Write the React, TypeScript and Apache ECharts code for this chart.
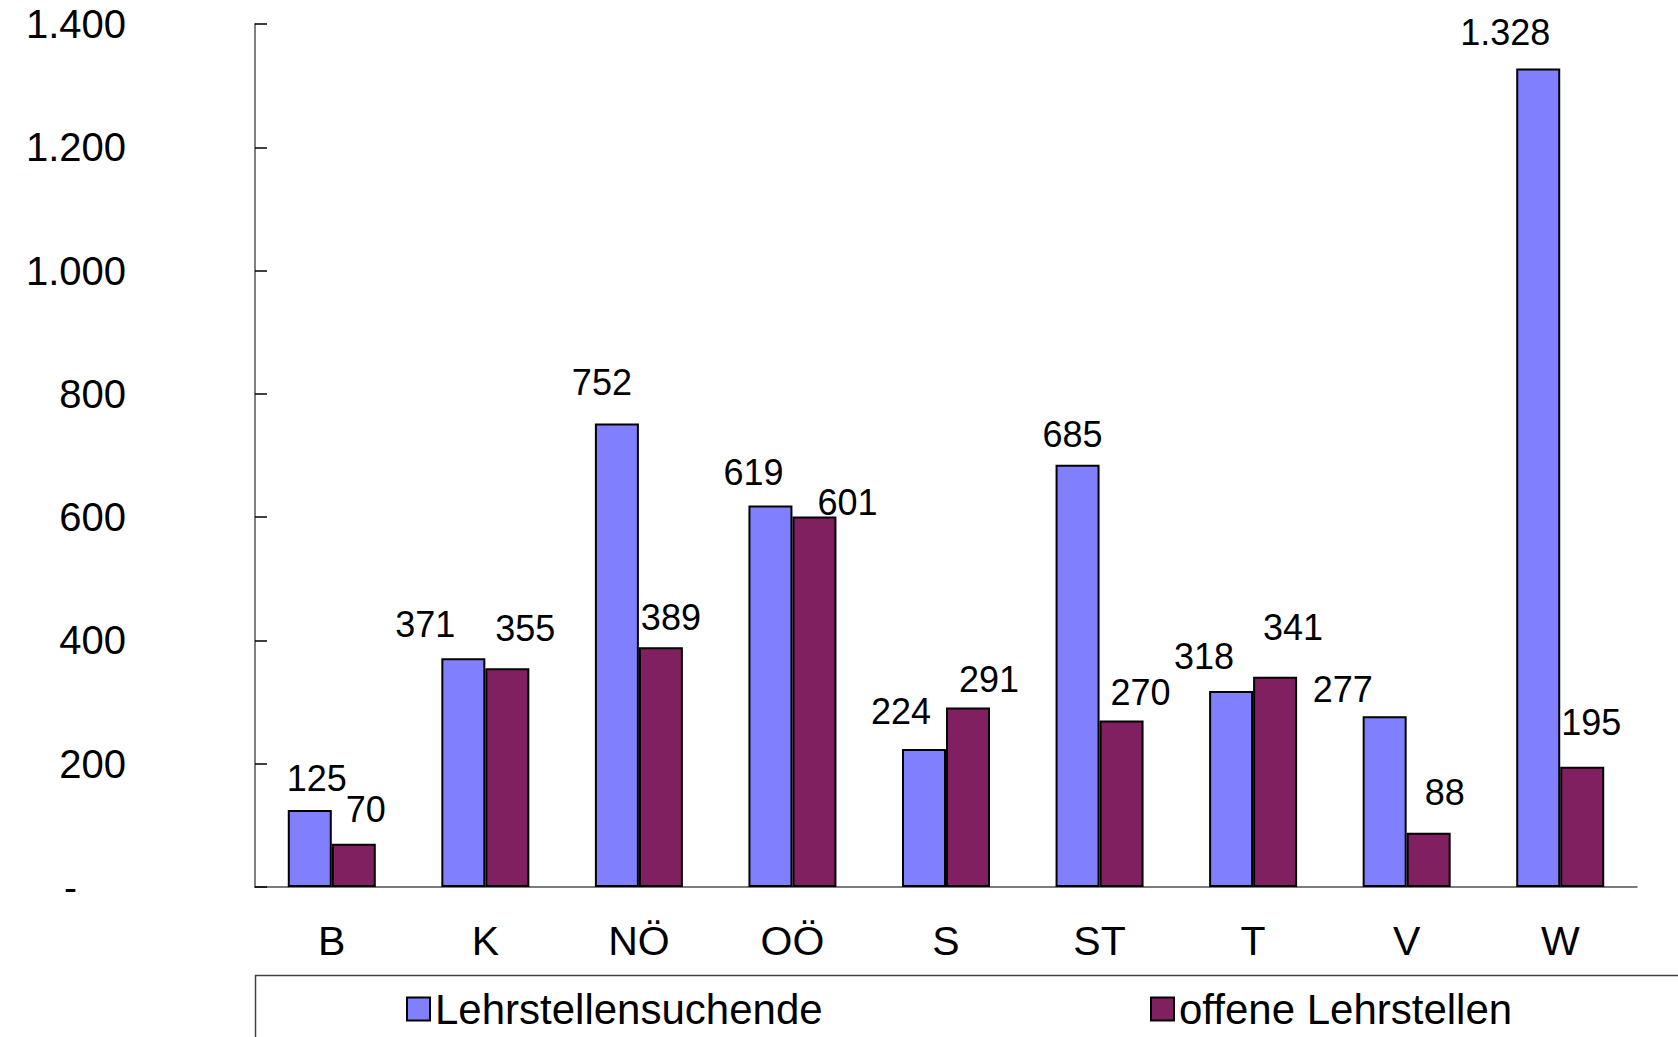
import React, { useEffect, useRef } from 'react';
import * as echarts from 'echarts';

const categories = ['B', 'K', 'NÖ', 'OÖ', 'S', 'ST', 'T', 'V', 'W'];
const seekers = [125, 371, 752, 619, 224, 685, 318, 277, 1328];
const openings = [70, 355, 389, 601, 291, 270, 341, 88, 195];
const seriesNames = ['Lehrstellensuchende', 'offene Lehrstellen'];
const yMax = 1400;
const yStep = 200;

// label nudges (px) relative to the default "top" placement
const seekerLabelOffsets = [[7, -13], [-38, -16], [-15, -23], [-17, -15], [-23, -19], [-5, -12], [-27, -16], [-42, -9], [-33, -18]];
const openingLabelOffsets = [[12, -16], [18, -22], [10, -12], [33, 4], [21, -10], [19, -10], [18, -31], [16, -22], [9, -26]];

const FONT = '"Liberation Sans", Arial, Helvetica, sans-serif';

const fmt = (v: number) => (v === 0 ? '-' : String(v).replace(/\B(?=(\d{3})+(?!\d))/g, '.'));

export default function App() {
  const ref = useRef<HTMLDivElement>(null);
  useEffect(() => {
    document.body.style.margin = '0';
    if (!ref.current) return;
    const chart = echarts.init(ref.current, null, { renderer: 'svg' });
    const labelBase = {
      show: true,
      position: 'top',
      distance: 0,
      fontSize: 36,
      lineHeight: 36,
      color: '#000',
      fontFamily: FONT,
      formatter: (p: any) => fmt(p.value),
    };
    const legendBase = {
      top: 988,
      padding: 0,
      itemWidth: 23,
      itemHeight: 23,
      icon: 'rect',
      selectedMode: false,
      itemStyle: { borderColor: '#000', borderWidth: 2 },
      textStyle: { fontSize: 42, lineHeight: 42, color: '#000', fontFamily: FONT },
    };
    chart.setOption({
      animation: false,
      backgroundColor: '#fff',
      grid: { left: 255, right: 41, top: 24, bottom: 150, containLabel: false },
      xAxis: {
        type: 'category',
        data: categories,
        axisLine: { show: true, lineStyle: { color: '#505050', width: 1.5 } },
        axisTick: { show: false },
        axisLabel: { fontSize: 41, lineHeight: 41, color: '#000', fontFamily: FONT, margin: 33 },
        splitLine: { show: false },
      },
      yAxis: {
        type: 'value',
        min: 0,
        max: yMax,
        interval: yStep,
        axisLine: { show: true, lineStyle: { color: '#808080', width: 2 } },
        axisTick: { show: true, inside: true, length: 12, lineStyle: { color: '#000', width: 1.5 } },
        splitLine: { show: false },
        axisLabel: {
          fontSize: 40,
          color: '#000',
          fontFamily: FONT,
          margin: 129,
          formatter: (v: number) => (v === 0 ? '{z|-}' : fmt(v)),
          rich: { z: { fontSize: 39, fontFamily: FONT, color: '#000', padding: [0, 49, 0, 0] } },
        },
      },
      legend: [
        { ...legendBase, data: [seriesNames[0]], left: 406 },
        { ...legendBase, data: [seriesNames[1]], left: 1150 },
      ],
      graphic: [
        {
          type: 'rect',
          left: 253,
          top: 973,
          shape: { width: 1600, height: 120 },
          style: { fill: 'none', stroke: '#404040', lineWidth: 1.5 },
          silent: true,
        },
      ],
      series: [
        {
          name: seriesNames[0],
          type: 'bar',
          barWidth: 44,
          barGap: '0%',
          itemStyle: { color: '#8080FF', borderColor: '#000', borderWidth: 2 },
          label: labelBase,
          data: seekers.map((v, i) => ({ value: v, label: { offset: seekerLabelOffsets[i] } })),
        },
        {
          name: seriesNames[1],
          type: 'bar',
          barWidth: 44,
          barGap: '0%',
          itemStyle: { color: '#802060', borderColor: '#000', borderWidth: 2 },
          label: labelBase,
          data: openings.map((v, i) => ({ value: v, label: { offset: openingLabelOffsets[i] } })),
        },
      ],
    });
    return () => chart.dispose();
  }, []);
  return <div ref={ref} style={{ width: 1678, height: 1037 }} />;
}
